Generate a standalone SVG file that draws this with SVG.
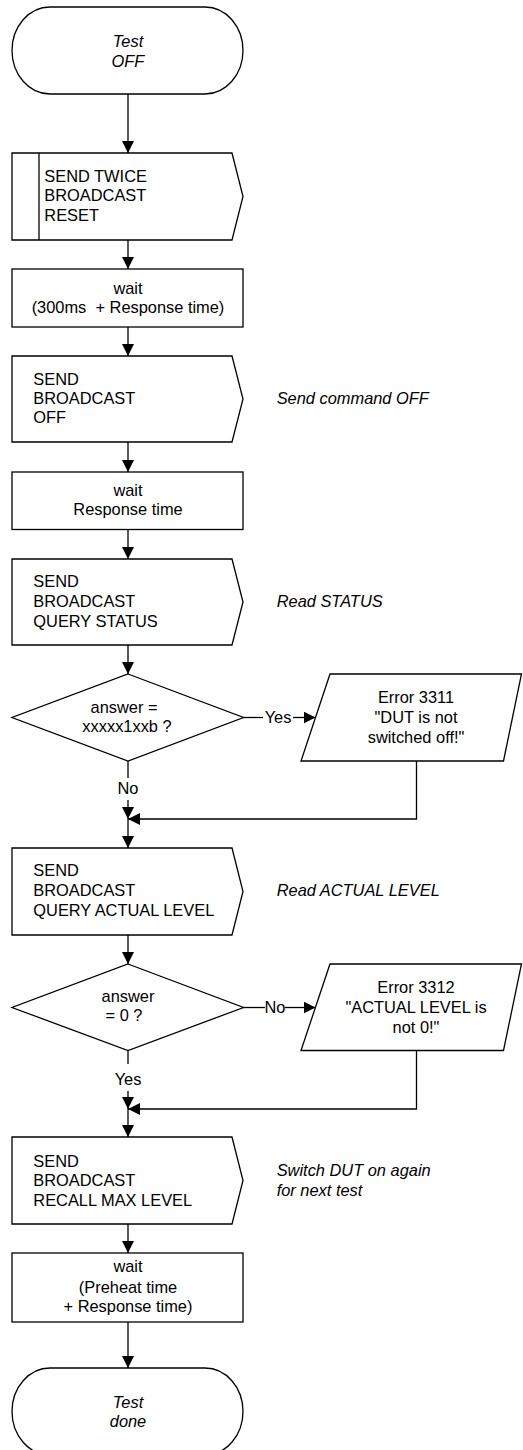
<svg xmlns="http://www.w3.org/2000/svg" width="523" height="1450" viewBox="0 0 523 1450">
<style>
.s{fill:#fff;stroke:#000;stroke-width:1.3}
.c{fill:none;stroke:#000;stroke-width:1.3}
text{font-family:"Liberation Sans",Arial,sans-serif;font-size:16.4px;fill:#000}
.m{text-anchor:middle}
.i{font-style:italic}
</style>
<defs>
<marker id="ah" markerUnits="userSpaceOnUse" markerWidth="12" markerHeight="12" refX="12" refY="6" orient="auto">
<path d="M0,0 L12,6 L0,12 z" fill="#000"/>
</marker>
</defs>
<rect width="523" height="1450" fill="#fff"/>
<g id="connectors">
<path class="c" d="M128,94 V153" marker-end="url(#ah)"/>
<path class="c" d="M128,240 V269" marker-end="url(#ah)"/>
<path class="c" d="M128,327 V356" marker-end="url(#ah)"/>
<path class="c" d="M128,442 V472" marker-end="url(#ah)"/>
<path class="c" d="M128,529 V559" marker-end="url(#ah)"/>
<path class="c" d="M128,645 V674" marker-end="url(#ah)"/>
<path class="c" d="M243,717.5 H263"/>
<path class="c" d="M293,717.5 H315.5" marker-end="url(#ah)"/>
<text class="m" x="278" y="723">Yes</text>
<path class="c" d="M128,761 V778"/>
<text class="m" x="128" y="794">No</text>
<path class="c" d="M128,800 V819" marker-end="url(#ah)"/>
<path class="c" d="M416.5,761 V819 H128" marker-end="url(#ah)"/>
<path class="c" d="M128,819 V848" marker-end="url(#ah)"/>
<path class="c" d="M128,935 V964" marker-end="url(#ah)"/>
<path class="c" d="M243,1007.5 H265"/>
<path class="c" d="M285,1007.5 H315.5" marker-end="url(#ah)"/>
<text class="m" x="275" y="1013">No</text>
<path class="c" d="M128,1050.5 V1064"/>
<text class="m" x="128" y="1085">Yes</text>
<path class="c" d="M128,1091 V1109" marker-end="url(#ah)"/>
<path class="c" d="M416.5,1050.5 V1109 H128" marker-end="url(#ah)"/>
<path class="c" d="M128,1109 V1137" marker-end="url(#ah)"/>
<path class="c" d="M128,1224 V1253" marker-end="url(#ah)"/>
<path class="c" d="M128,1322 V1368" marker-end="url(#ah)"/>
</g>
<g id="start">
<rect class="s" x="12" y="7" width="231" height="87" rx="38" ry="43.5"/>
<text class="m i" x="128" y="47">Test</text>
<text class="m i" x="128" y="67">OFF</text>
</g>
<g id="send-reset">
<path class="s" d="M12,153 H232 L243,196.5 L232,240 H12 Z"/>
<path class="c" d="M39,153 V240"/>
<text x="44.3" y="181.7">SEND TWICE</text>
<text x="44.3" y="201.2">BROADCAST</text>
<text x="44.3" y="220.7">RESET</text>
</g>
<g id="wait1">
<rect class="s" x="12" y="269" width="231" height="58"/>
<text class="m" x="128" y="293.5">wait</text>
<text class="m" x="128" y="313.3" xml:space="preserve">(300ms  + Response time)</text>
</g>
<g id="send-off">
<path class="s" d="M12,356 H232 L243,399 L232,442 H12 Z"/>
<text x="33.3" y="385">SEND</text>
<text x="33.3" y="404">BROADCAST</text>
<text x="33.3" y="423.3">OFF</text>
<text class="i" x="276.7" y="404">Send command OFF</text>
</g>
<g id="wait2">
<rect class="s" x="12" y="472" width="231" height="57.5"/>
<text class="m" x="128" y="495.7">wait</text>
<text class="m" x="128" y="515">Response time</text>
</g>
<g id="send-status">
<path class="s" d="M12,559 H232 L243,602 L232,645 H12 Z"/>
<text x="33.3" y="587">SEND</text>
<text x="33.3" y="606.7">BROADCAST</text>
<text x="33.3" y="626.5">QUERY STATUS</text>
<text class="i" x="276.7" y="606.7">Read STATUS</text>
</g>
<g id="decision1">
<path class="s" d="M128,674 L243.5,717.5 L128,761 L12,717.5 Z"/>
<text class="m" x="124" y="713.3">answer =</text>
<text class="m" x="127" y="732.3">xxxxx1xxb ?</text>
</g>
<g id="error3311">
<path class="s" d="M330,674 H521.5 L503.5,761 H301 Z"/>
<text class="m" x="416" y="702.7">Error 3311</text>
<text class="m" x="416" y="722.7">"DUT is not</text>
<text class="m" x="416" y="742.7">switched off!"</text>
</g>
<g id="send-actual">
<path class="s" d="M12,848 H232 L243,891.5 L232,935 H12 Z"/>
<text x="33.3" y="876">SEND</text>
<text x="33.3" y="895.5">BROADCAST</text>
<text x="33.3" y="915.5">QUERY ACTUAL LEVEL</text>
<text class="i" x="276.7" y="895.5">Read ACTUAL LEVEL</text>
</g>
<g id="decision2">
<path class="s" d="M128,964 L243.5,1007.5 L128,1050.5 L12,1007.5 Z"/>
<text class="m" x="128" y="1001.7">answer</text>
<text class="m" x="124" y="1021">= 0 ?</text>
</g>
<g id="error3312">
<path class="s" d="M330,964 H521.5 L503.5,1050.5 H301 Z"/>
<text class="m" x="416" y="992.7">Error 3312</text>
<text class="m" x="416" y="1012.7">"ACTUAL LEVEL is</text>
<text class="m" x="416" y="1032.7">not 0!"</text>
</g>
<g id="send-recall">
<path class="s" d="M12,1137 H232 L243,1180.5 L232,1224 H12 Z"/>
<text x="33.3" y="1166.7">SEND</text>
<text x="33.3" y="1186.2">BROADCAST</text>
<text x="33.3" y="1206">RECALL MAX LEVEL</text>
<text class="i" x="276.7" y="1176">Switch DUT on again</text>
<text class="i" x="276.7" y="1195.7">for next test</text>
</g>
<g id="wait3">
<rect class="s" x="12" y="1253" width="231" height="69"/>
<text class="m" x="128" y="1272.3">wait</text>
<text class="m" x="128" y="1292.5">(Preheat time</text>
<text class="m" x="128" y="1311.7">+ Response time)</text>
</g>
<g id="end">
<rect class="s" x="12" y="1368" width="231" height="87" rx="38" ry="43.5"/>
<text class="m i" x="128" y="1408.3">Test</text>
<text class="m i" x="128" y="1426.7">done</text>
</g>
</svg>
